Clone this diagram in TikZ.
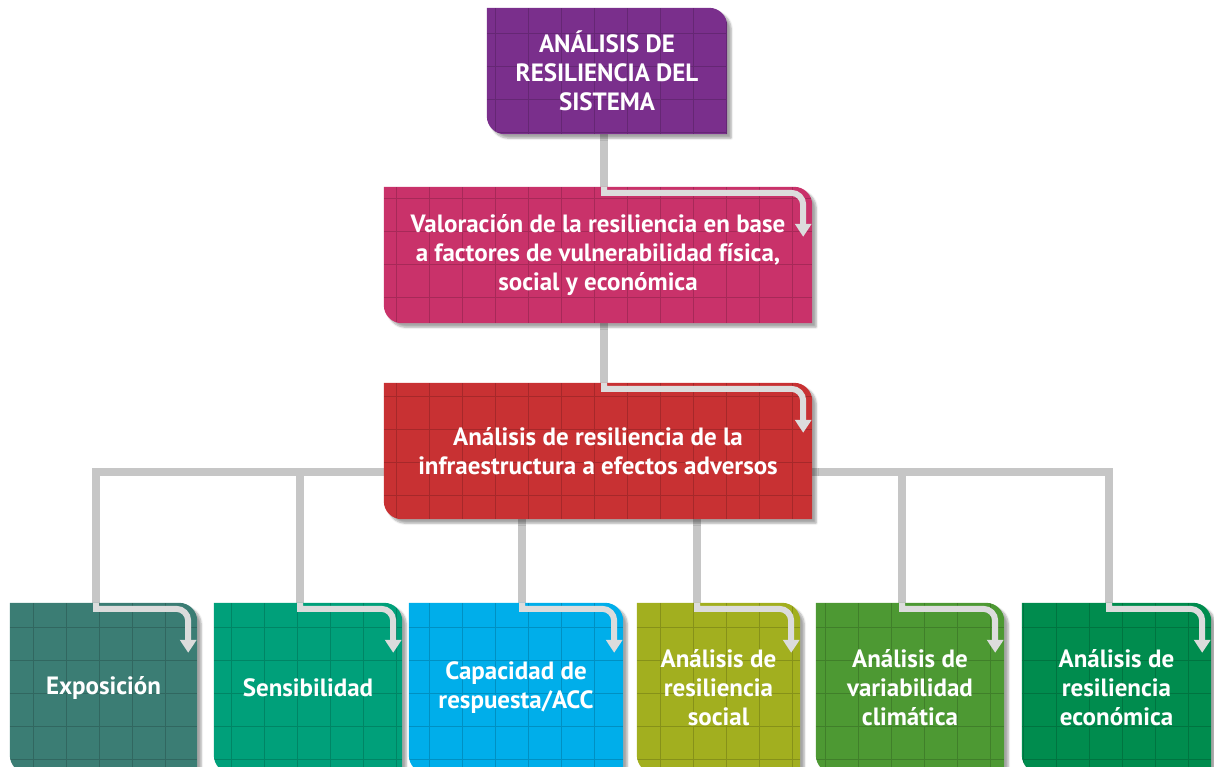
\documentclass[tikz,border=0pt]{standalone}
\usepackage{fontspec}
\setmainfont{PT Sans}
\usetikzlibrary{arrows.meta, positioning, calc, shadows.blur}

\definecolor{sysPurple}{HTML}{7A2F8C}
\definecolor{valPink}{HTML}{C9326A}
\definecolor{infraRed}{HTML}{C83133}
\definecolor{expoTeal}{HTML}{3B7D74}
\definecolor{sensGreen}{HTML}{00A07A}
\definecolor{capBlue}{HTML}{00AEEA}
\definecolor{socOlive}{HTML}{A2AF1F}
\definecolor{climGreen}{HTML}{4D9933}
\definecolor{econGreen}{HTML}{008C4E}
\definecolor{connGray}{HTML}{C6C6C6}
\definecolor{turnGray}{HTML}{DCDCDC}

\pgfdeclarelayer{back}
\pgfdeclarelayer{boxes}
\pgfsetlayers{back,boxes,main}

\tikzset{
  card/.style={rectangle, inner sep=0pt, align=center, text=white,
    font=\fontsize{25}{29}\selectfont\bfseries},
  conn/.style={draw=connGray, line width=8.5pt},
  turn/.style={draw=turnGray, line width=6pt, -{Triangle[width=16pt, length=13pt]}},
  gridline/.style={draw=black, opacity=0.17, line width=1pt},
}

% card outline: top-right and bottom-left corners rounded
\newcommand{\cardpath}[1]{(#1.north west) -- ([xshift=-18pt]#1.north east)
  arc[start angle=90, end angle=0, radius=18pt] -- (#1.south east)
  -- ([xshift=18pt]#1.south west) arc[start angle=270, end angle=180, radius=18pt] -- cycle}

\newcommand{\drawcard}[2]{%
  \fill[#2, blur shadow={shadow xshift=4pt, shadow yshift=-4pt, shadow opacity=35, shadow blur steps=6}] \cardpath{#1};
  \begin{scope}
    \clip \cardpath{#1};
    \draw[gridline, step=33pt] (#1.south west) grid (#1.north east);
  \end{scope}}

% light bent arrow on top of a card
\newcommand{\turnarrow}[2]{%
  \draw[turn] (#2 |- #1.north) -- ([yshift=-6pt]#2 |- #1.north)
    -- ([xshift=-21pt, yshift=-6pt]#1.north east)
    arc[start angle=90, end angle=0, radius=12pt]
    -- ([xshift=-9pt, yshift=-50pt]#1.north east);}

\begin{document}
\begin{tikzpicture}[x=1pt, y=-1pt]
  \useasboundingbox (0,0) rectangle (1214,766);

  % top chain
  \node[card, minimum width=240pt, minimum height=126pt] (sistema) at (607,71)
    {ANÁLISIS DE\\RESILIENCIA DEL\\SISTEMA};
  \node[card, minimum width=428pt, minimum height=136pt] (valoracion) at (598,255)
    {Valoración de la resiliencia en base\\a factores de vulnerabilidad física,\\social y económica};
  \node[card, minimum width=428pt, minimum height=136pt] (infra) at (598,451)
    {Análisis de resiliencia de la\\infraestructura a efectos adversos};

  % bottom row
  \node[card, minimum width=187pt, minimum height=170pt] (expo) at (103.5,688) {Exposición};
  \node[card, minimum width=188pt, minimum height=170pt] (sens) at (308,688) {Sensibilidad};
  \node[card, minimum width=214pt, minimum height=170pt] (capac) at (516,688) {Capacidad de\\respuesta/ACC};
  \node[card, minimum width=163pt, minimum height=170pt] (social) at (718.5,688) {Análisis de\\resiliencia\\social};
  \node[card, minimum width=188pt, minimum height=170pt] (clima) at (910,688) {Análisis de\\variabilidad\\climática};
  \node[card, minimum width=189pt, minimum height=170pt] (econ) at (1116.5,688) {Análisis de\\resiliencia\\económica};

  \begin{pgfonlayer}{boxes}
    \drawcard{sistema}{sysPurple}
    \drawcard{valoracion}{valPink}
    \drawcard{infra}{infraRed}
    \drawcard{expo}{expoTeal}
    \drawcard{sens}{sensGreen}
    \drawcard{capac}{capBlue}
    \drawcard{social}{socOlive}
    \drawcard{clima}{climGreen}
    \drawcard{econ}{econGreen}
  \end{pgfonlayer}

  % connectors
  \coordinate (spine) at (604,0);
  \coordinate (b1) at (96,472);
  \coordinate (b2) at (300,472);
  \coordinate (b3) at (522,472);
  \coordinate (b4) at (697,472);
  \coordinate (b5) at (902,472);
  \coordinate (b6) at (1109,472);

  \begin{pgfonlayer}{back}
    \draw[conn] (spine |- sistema.south) -- (spine |- valoracion.north);
    \draw[conn] (spine |- valoracion.south) -- (spine |- infra.north);
    \draw[conn] (b1 |- expo.north) -- (b1) -- (b6) -- (b6 |- econ.north);
    \draw[conn] (b2) -- (b2 |- sens.north);
    \draw[conn] (b3 |- infra.south) -- (b3 |- capac.north);
    \draw[conn] (b4 |- infra.south) -- (b4 |- social.north);
    \draw[conn] (b5) -- (b5 |- clima.north);
  \end{pgfonlayer}

  \turnarrow{valoracion}{spine}
  \turnarrow{infra}{spine}
  \turnarrow{expo}{b1}
  \turnarrow{sens}{b2}
  \turnarrow{capac}{b3}
  \turnarrow{social}{b4}
  \turnarrow{clima}{b5}
  \turnarrow{econ}{b6}
\end{tikzpicture}
\end{document}
